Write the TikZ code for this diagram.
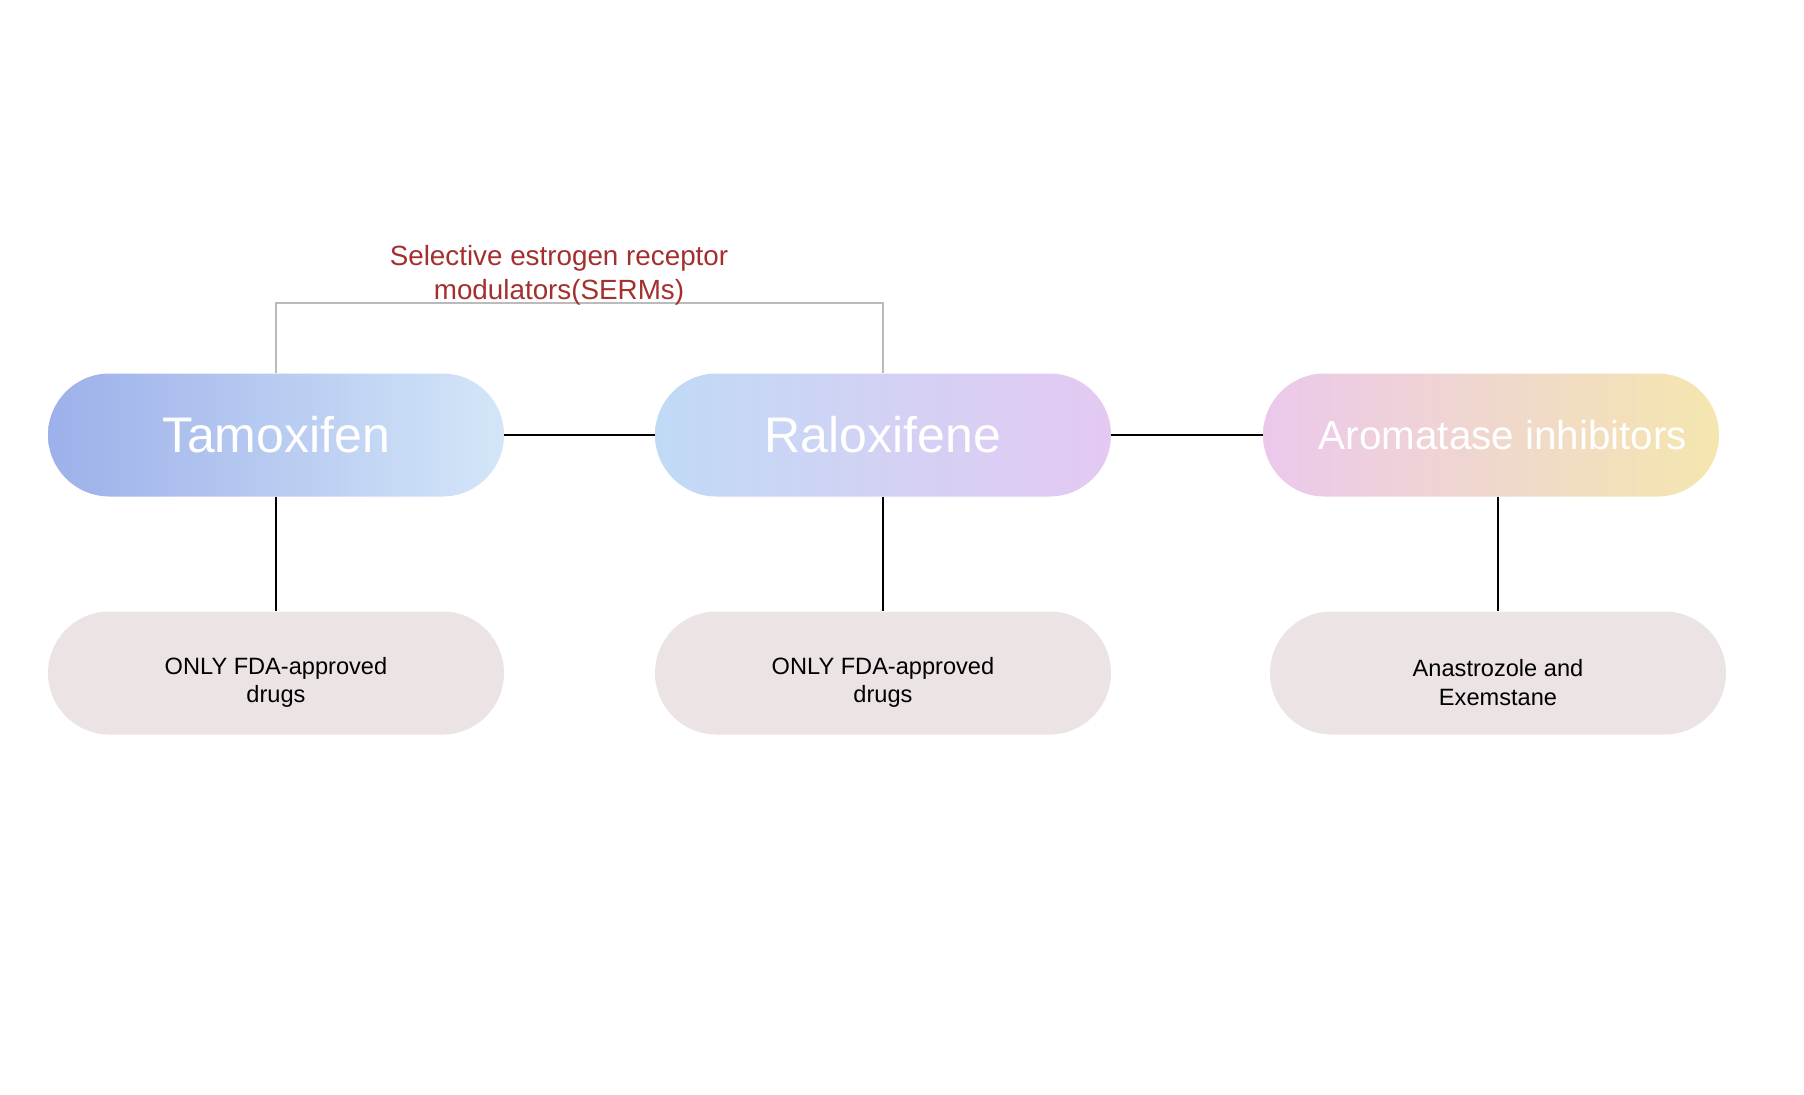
\documentclass[tikz,border=0pt]{standalone}
\usepackage{fontspec}
\setmainfont{Liberation Sans}
\definecolor{tamleft}{HTML}{9DB0EA}
\definecolor{tamright}{HTML}{D3E6F8}
\definecolor{ralleft}{HTML}{C0DAF6}
\definecolor{ralright}{HTML}{E4C9F2}
\definecolor{aroleft}{HTML}{EBC8EC}
\definecolor{aroright}{HTML}{F5E6AE}
\definecolor{notegray}{HTML}{EBE3E4}
\definecolor{sermred}{HTML}{A3302E}
\definecolor{bracketgray}{HTML}{BBBBBB}
\newcommand{\notestrut}{\rule{0pt}{18pt}}
\tikzset{
  pill/.style={minimum width=228pt, minimum height=61.5pt, rounded corners=30.75pt,
    inner sep=0pt, text=white, font=\fontsize{25}{29}\selectfont},
  note/.style={minimum width=228pt, minimum height=61.5pt, rounded corners=30.75pt,
    inner sep=0pt, fill=notegray, align=center, font=\fontsize{11.8}{14.4}\selectfont},
  link/.style={draw=black, line width=1.2pt},
  stem/.style={draw=black, line width=0.7pt}
}
\begin{document}
\begin{tikzpicture}[x=0.5pt, y=-0.5pt]
\useasboundingbox (0,0) rectangle (1804,1094);
% top row
\node[pill, left color=tamleft, right color=tamright] (tam) at (276,435) {Tamoxifen};
\node[pill, left color=ralleft, right color=ralright] (ral) at (883,435) {Raloxifene};
\node[pill, left color=aroleft, right color=aroright, font=\fontsize{20.2}{24}\selectfont] (aro) at (1491,435) {\hspace{12pt}Aromatase inhibitors};
% bottom row
\node[note] (tamnote) at (276,673) {\notestrut ONLY FDA-approved\\drugs};
\node[note] (ralnote) at (883,673) {\notestrut ONLY FDA-approved\\drugs};
\node[note] (aronote) at (1498,673) {\notestrut Anastrozole and\\Exemstane};
% connectors
\draw[link] (tam) -- (ral);
\draw[link] (ral) -- (aro);
\draw[stem] (tam.south) -- (tamnote.north);
\draw[stem] (ral.south) -- (ralnote.north);
\draw[stem] (aro.south -| aronote.north) -- (aronote.north);
% SERM bracket
\coordinate (brk) at (579,303);
\draw[bracketgray, line width=0.75pt] (tam.north) |- (brk) -| (ral.north);
\node[text=sermred, align=center, font=\fontsize{13.9}{16.8}\selectfont] (serm) at (559,275)
  {Selective estrogen receptor\\modulators(SERMs)};
\end{tikzpicture}
\end{document}
